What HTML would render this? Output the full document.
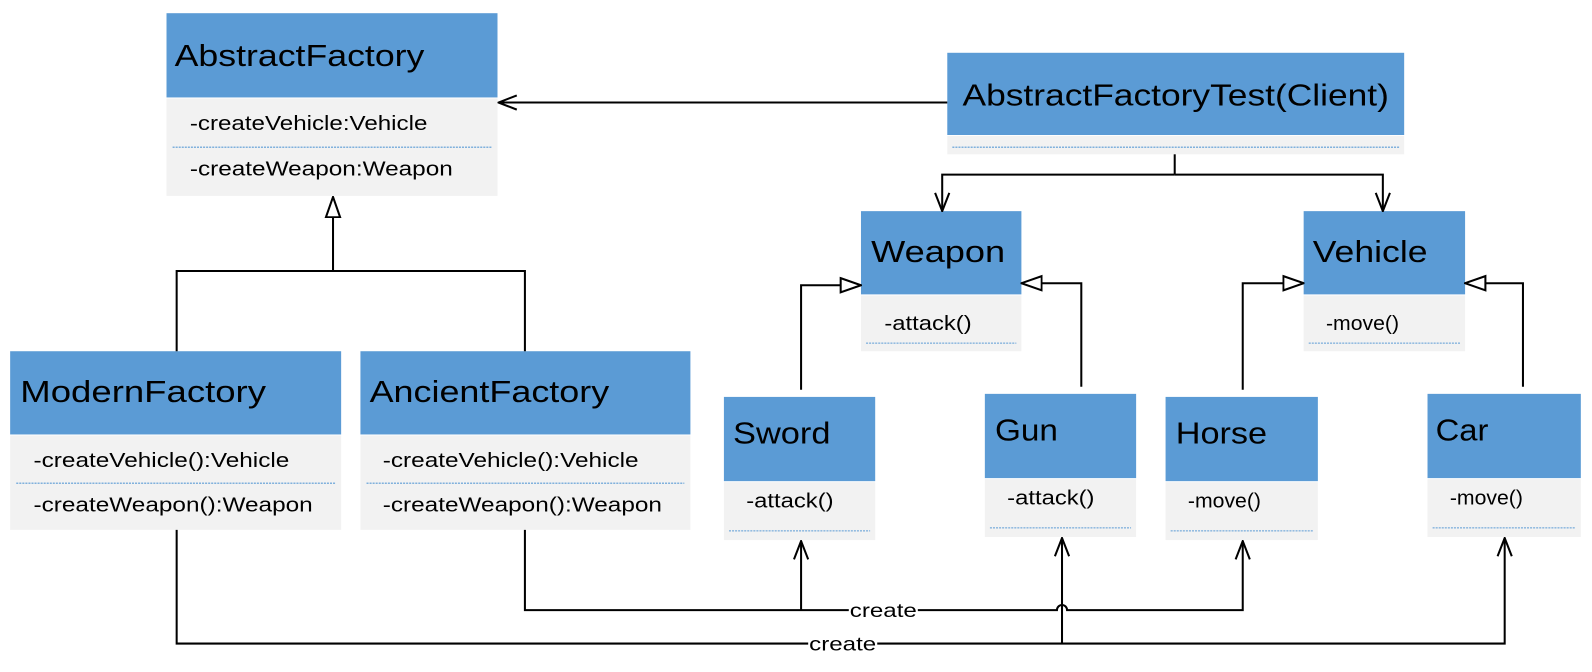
<!DOCTYPE html>
<html><head><meta charset="utf-8"><style>body{margin:0;background:#fff}svg{display:block}</style></head><body>
<svg width="1592" height="672" viewBox="0 0 1568 662" preserveAspectRatio="none" xmlns="http://www.w3.org/2000/svg" font-family="Liberation Sans, sans-serif">
<defs>
<marker id="open" viewBox="0 0 20 20" refX="19" refY="10" markerWidth="20" markerHeight="20" markerUnits="userSpaceOnUse" orient="auto"><path d="M1 3 L19 10 L1 17" fill="none" stroke="#000" stroke-width="2"/></marker>
<marker id="tri" viewBox="0 0 22 20" refX="21" refY="10" markerWidth="22" markerHeight="20" markerUnits="userSpaceOnUse" orient="auto"><path d="M1 3 L21 10 L1 17 Z" fill="#fff" stroke="#000" stroke-width="2"/></marker>
</defs>
<g fill="#5b9bd5">
<rect x="164" y="13" width="326" height="83"/>
<rect x="933" y="52" width="450" height="81"/>
<rect x="848" y="208" width="158" height="82"/>
<rect x="1284" y="208" width="159" height="82"/>
<rect x="10" y="346" width="326" height="82"/>
<rect x="355" y="346" width="325" height="82"/>
<rect x="713" y="391" width="149" height="83"/>
<rect x="970" y="388" width="149" height="83"/>
<rect x="1148" y="391" width="150" height="83"/>
<rect x="1406" y="388" width="151" height="83"/>
</g>
<g fill="#f2f2f2">
<rect x="164" y="97" width="326" height="96"/>
<rect x="933" y="134" width="450" height="18"/>
<rect x="848" y="291" width="158" height="55"/>
<rect x="1284" y="291" width="159" height="55"/>
<rect x="10" y="429" width="326" height="93"/>
<rect x="355" y="429" width="325" height="93"/>
<rect x="713" y="475" width="149" height="57"/>
<rect x="970" y="472" width="149" height="57"/>
<rect x="1148" y="475" width="150" height="57"/>
<rect x="1406" y="472" width="151" height="57"/>
</g>
<g stroke="#5b9bd5" stroke-width="1" stroke-dasharray="2,1">
<line x1="170" y1="145" x2="484" y2="145"/>
<line x1="938" y1="145" x2="1378" y2="145"/>
<line x1="853" y1="338" x2="1001" y2="338"/>
<line x1="1289" y1="338" x2="1438" y2="338"/>
<line x1="16" y1="476" x2="330" y2="476"/>
<line x1="361" y1="476" x2="674" y2="476"/>
<line x1="718" y1="523" x2="857" y2="523"/>
<line x1="975" y1="520" x2="1114" y2="520"/>
<line x1="1153" y1="523" x2="1293" y2="523"/>
<line x1="1411" y1="520" x2="1552" y2="520"/>
</g>
<g font-size="30" fill="#000">
<text x="172" y="65" textLength="246" lengthAdjust="spacingAndGlyphs">AbstractFactory</text>
<text x="948" y="104" textLength="420" lengthAdjust="spacingAndGlyphs">AbstractFactoryTest(Client)</text>
<text x="858" y="258" textLength="132" lengthAdjust="spacingAndGlyphs">Weapon</text>
<text x="1293" y="258" textLength="113" lengthAdjust="spacingAndGlyphs">Vehicle</text>
<text x="20" y="396" textLength="242" lengthAdjust="spacingAndGlyphs">ModernFactory</text>
<text x="364" y="396" textLength="236" lengthAdjust="spacingAndGlyphs">AncientFactory</text>
<text x="722" y="437" textLength="96" lengthAdjust="spacingAndGlyphs">Sword</text>
<text x="980" y="434" textLength="62" lengthAdjust="spacingAndGlyphs">Gun</text>
<text x="1158" y="437" textLength="90" lengthAdjust="spacingAndGlyphs">Horse</text>
<text x="1414" y="434" textLength="52" lengthAdjust="spacingAndGlyphs">Car</text>
</g>
<g font-size="20" fill="#000">
<text x="187" y="128" textLength="234" lengthAdjust="spacingAndGlyphs">-createVehicle:Vehicle</text>
<text x="187" y="173" textLength="259" lengthAdjust="spacingAndGlyphs">-createWeapon:Weapon</text>
<text x="33" y="460" textLength="252" lengthAdjust="spacingAndGlyphs">-createVehicle():Vehicle</text>
<text x="33" y="504" textLength="275" lengthAdjust="spacingAndGlyphs">-createWeapon():Weapon</text>
<text x="377" y="460" textLength="252" lengthAdjust="spacingAndGlyphs">-createVehicle():Vehicle</text>
<text x="377" y="504" textLength="275" lengthAdjust="spacingAndGlyphs">-createWeapon():Weapon</text>
<text x="871" y="325" textLength="86" lengthAdjust="spacingAndGlyphs">-attack()</text>
<text x="1306" y="325" textLength="72" lengthAdjust="spacingAndGlyphs">-move()</text>
<text x="735" y="500" textLength="86" lengthAdjust="spacingAndGlyphs">-attack()</text>
<text x="992" y="497" textLength="86" lengthAdjust="spacingAndGlyphs">-attack()</text>
<text x="1170" y="500" textLength="72" lengthAdjust="spacingAndGlyphs">-move()</text>
<text x="1428" y="497" textLength="72" lengthAdjust="spacingAndGlyphs">-move()</text>
</g>
<g fill="none" stroke="#000" stroke-width="2">
<line x1="933" y1="101" x2="491" y2="101" marker-end="url(#open)"/>
<line x1="1157" y1="152" x2="1157" y2="172"/>
<polyline points="1157,172 928,172 928,208" marker-end="url(#open)"/>
<polyline points="1157,172 1362,172 1362,208" marker-end="url(#open)"/>
<line x1="328" y1="267" x2="328" y2="194" marker-end="url(#tri)"/>
<polyline points="174,346 174,267 517,267 517,346"/>
<polyline points="789,384 789,281 848,281" marker-end="url(#tri)"/>
<polyline points="1065,381 1065,279 1006,279" marker-end="url(#tri)"/>
<polyline points="1224,384 1224,279 1284,279" marker-end="url(#tri)"/>
<polyline points="1500,381 1500,279 1443,279" marker-end="url(#tri)"/>
<path d="M517 522 V601 H1041 a5 5 0 0 1 10 0 H1224 V533" marker-end="url(#open)"/>
<line x1="789" y1="601" x2="789" y2="533" marker-end="url(#open)"/>
<polyline points="174,522 174,634 1482,634 1482,530" marker-end="url(#open)"/>
<line x1="1046" y1="634" x2="1046" y2="530" marker-end="url(#open)"/>
</g>
<rect x="836" y="592" width="68" height="18" fill="#fff"/>
<rect x="796" y="625" width="68" height="18" fill="#fff"/>
<g font-size="19" fill="#000">
<text x="837" y="608" textLength="66" lengthAdjust="spacingAndGlyphs">create</text>
<text x="797" y="641" textLength="66" lengthAdjust="spacingAndGlyphs">create</text>
</g>
</svg>
</body></html>
